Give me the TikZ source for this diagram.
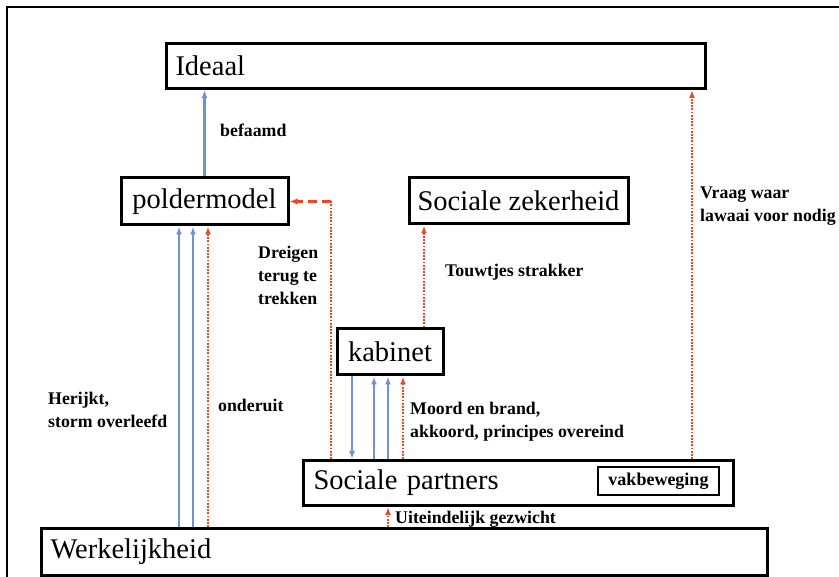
\documentclass[tikz,border=0pt]{standalone}
\usepackage{fontspec}
\setmainfont{Liberation Serif}
\usetikzlibrary{arrows.meta}
\definecolor{lblue}{RGB}{110,145,215}
\definecolor{lred}{RGB}{240,70,35}
\tikzset{
  bigbox/.style={draw, line width=3pt, inner ysep=0pt, font=\fontsize{28.5}{30}\selectfont},
  lbox/.style={bigbox, align=left},
  lbl/.style={inner sep=0pt, anchor=west, align=left, font=\fontsize{17.8}{23}\selectfont\bfseries},
  bluearr/.style={lblue, line width=2.2pt, -{Latex[length=8pt,width=6pt]}},
  reddot/.style={lred, line width=2.2pt, dash pattern=on 1.8pt off 1.4pt},
  redarr/.style={reddot, -{Latex[length=8pt,width=6pt]}},
}
\begin{document}
\begin{tikzpicture}[x=1pt,y=-1pt]
\useasboundingbox (0,0) rectangle (839,577);
\draw[line width=1.2pt] (7,577) -- (7,7) -- (839,7);

\node[lbox, anchor=north west, minimum width=539pt, minimum height=45pt, inner xsep=9pt, text width=521pt] (ideaal) at (165,42) {Ideaal};
\node[bigbox, minimum width=167pt, minimum height=47pt] (pm) at (204.5,201.5) {poldermodel};
\node[bigbox, minimum width=219pt, minimum height=46pt] (sz) at (518.5,201) {Sociale zekerheid};
\node[bigbox, minimum width=106pt, minimum height=46pt] (kab) at (390,352) {kabinet};
\node[lbox, anchor=north west, minimum width=430pt, minimum height=45pt, inner xsep=10pt, text width=410pt] (sp) at (302,459) {Sociale partners};
\node[draw, line width=1.4pt, minimum width=121pt, minimum height=28pt, inner sep=0pt, font=\fontsize{18}{20}\selectfont\bfseries] (vak) at (658.5,481) {vakbeweging};
\node[lbox, anchor=north west, minimum width=726pt, minimum height=47pt, inner xsep=9pt, text width=708pt] (wk) at (40,527) {Werkelijkheid};

% poldermodel -> Ideaal
\draw[bluearr] (pm.north) -- (ideaal.south -| pm.north);
% Werkelijkheid -> poldermodel
\draw[bluearr] (179,0 |- wk.north) -- (179,0 |- pm.south);
\draw[bluearr] (193,0 |- wk.north) -- (193,0 |- pm.south);
\draw[redarr] (208,0 |- wk.north) -- (208,0 |- pm.south);
% Sociale partners -> poldermodel (dreigen)
\coordinate (dk) at (331,0 |- pm.east);
\draw[reddot] (331,0 |- sp.north) -- (dk);
\draw[lred, line width=2.6pt, dash pattern=on 9pt off 5pt, -{Latex[length=8pt,width=6.5pt]}] (dk) -- (pm.east);
% kabinet -> Sociale zekerheid
\draw[redarr] (424,0 |- kab.north) -- (424,0 |- sz.south);
% Sociale partners -> Ideaal
\draw[redarr] (692,0 |- sp.north) -- (692,0 |- ideaal.south);
% kabinet <-> Sociale partners
\draw[bluearr] (352,0 |- kab.south) -- (352,0 |- sp.north);
\draw[bluearr] (374,0 |- sp.north) -- (374,0 |- kab.south);
\draw[bluearr] (388,0 |- sp.north) -- (388,0 |- kab.south);
\draw[redarr] (403,0 |- sp.north) -- (403,0 |- kab.south);
% Werkelijkheid -> Sociale partners
\draw[redarr] (388,0 |- wk.north) -- (388,0 |- sp.south);

% labels
\node[lbl] (l1) at (220,130) {befaamd};
\node[lbl] (l2) at (258,275.5) {Dreigen\\terug te\\trekken};
\node[lbl] (l3) at (445,272) {Touwtjes strakker};
\node[lbl] (l4) at (700,206.5) {Vraag waar\\lawaai voor nodig};
\node[lbl] (l5) at (48,409.5) {Herijkt,\\storm overleefd};
\node[lbl] (l6) at (218,405) {onderuit};
\node[lbl] (l7) at (410,421.5) {Moord en brand,\\akkoord, principes overeind};
\node[lbl] (l8) at (395,519) {Uiteindelijk gezwicht};
\end{tikzpicture}
\end{document}
